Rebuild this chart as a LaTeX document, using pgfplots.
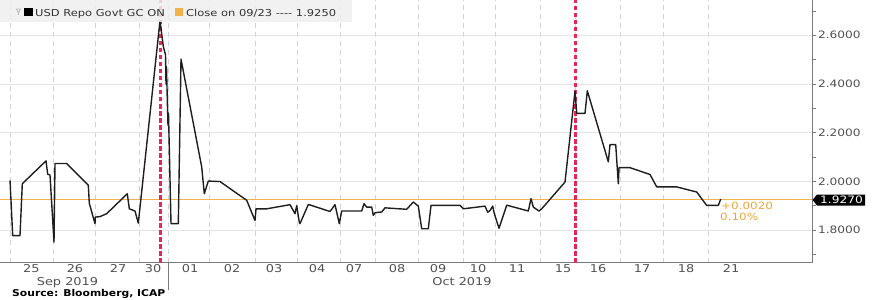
\documentclass[border=0pt]{standalone}
\usepackage{pgfplots}
\pgfplotsset{compat=1.18}
\usepackage{fontspec}
\setmainfont[FakeStretch=1.2]{DejaVu Sans}
\newfontfamily\bbgbold[FakeStretch=1.15]{DejaVu Sans Bold}
\definecolor{gridc}{HTML}{E4E4E4}
\definecolor{vgridc}{HTML}{D2D2D2}
\definecolor{axc}{HTML}{7A7A7A}
\definecolor{tickc}{HTML}{505050}
\definecolor{redl}{HTML}{E8265A}
\definecolor{closec}{HTML}{F2B24A}
\definecolor{annc}{HTML}{EBA53C}
\definecolor{legbg}{HTML}{EFEFEF}
\definecolor{linec}{HTML}{1E1E1E}

\pgfplotstableread{
x y
10 2.004
12.7 1.777
20 1.777
22.3 1.99
46 2.084
47.7 2.029
50 2.026
54 1.75
55 2.073
66.7 2.073
88.3 1.984
89.3 1.91
95 1.826
95.3 1.853
100 1.855
106.7 1.867
127.3 1.949
129.3 1.887
135 1.878
138.3 1.828
160 2.66
163.3 2.554
165.5 2.52
166 2.40
166.5 2.47
167.5 2.30
168 2.23
168.5 2.28
171 1.826
178.3 1.826
181 2.502
201.7 2.059
204.3 1.949
208.3 2.001
220 1.999
246.7 1.922
255 1.839
256 1.887
266.7 1.887
290 1.904
295 1.867
296.7 1.9
299.3 1.832
300 1.826
308.3 1.905
330 1.876
335 1.904
339.3 1.826
341.7 1.878
361.7 1.878
364 1.908
366.7 1.894
371.7 1.894
373.3 1.86
375 1.871
381.7 1.874
385 1.891
406.7 1.885
413.3 1.915
418.3 1.898
421.7 1.805
428.3 1.805
431 1.901
460 1.901
463.3 1.887
485 1.898
487.7 1.873
490 1.88
492.7 1.898
494.3 1.867
499 1.807
506.7 1.902
528.3 1.878
531 1.929
533.3 1.894
539 1.878
541.7 1.887
565 1.997
575 2.37
576.7 2.279
585 2.279
587.3 2.372
608.3 2.08
610 2.151
615.7 2.151
618.3 1.99
619 2.056
630 2.056
650 2.028
656.7 1.977
676.7 1.977
696.7 1.956
706.7 1.901
718.3 1.901
720.7 1.927
}\repo

\begin{document}
\begin{tikzpicture}[x=1bp,y=1bp]
\useasboundingbox (0,0) rectangle (883,299);
\begin{axis}[
  at={(0bp,36.5bp)}, anchor=south west,
  scale only axis, width=812bp, height=262.5bp,
  xmin=0, xmax=812, ymin=1.6664, ymax=2.745,
  axis x line*=bottom, axis y line*=right,
  axis line style={axc, line width=0.9bp},
  clip=false,
  xtick={31.3,75,118,153,190,232,274,317,354,397,438,478,517,563,598,642,686,731},
  xticklabels={25,26,27,30,01,02,03,04,07,08,09,10,11,15,16,17,18,21},
  minor xtick={10,53,95,139,168,209,255,297,340,375,418,463,495,540,575,620,663,708},
  xtick style={draw=none},
  xminorgrids=true,
  minor x grid style={vgridc, dash pattern=on 5bp off 4bp, line width=0.7bp},
  ytick={1.8,2.0,2.2,2.4,2.6},
  minor ytick={1.7,1.9,2.1,2.3,2.5,2.7},
  ymajorgrids=true,
  major y grid style={gridc, line width=0.8bp},
  ytick align=outside,
  major y tick style={axc, line width=0.8bp},
  minor y tick style={axc, line width=0.8bp},
  major tick length=3.5bp, minor tick length=3.5bp,
  /pgf/number format/assume math mode=true,
  yticklabel={\pgfmathprintnumber[fixed,zerofill,precision=4]{\tick}},
  yticklabel style={anchor=west, xshift=-1bp, font=\fontsize{10.2}{12}\selectfont, text=tickc},
  xticklabel style={anchor=base, yshift=-9.5bp, font=\fontsize{10.8}{12}\selectfont, text=tickc},
]
\addplot[closec, line width=1bp] coordinates {(0,1.926) (812,1.926)};
\addplot[redl, line width=3bp, dash pattern=on 4.5bp off 2.5bp] coordinates {(160,1.6664) (160,2.745)};
\addplot[redl, line width=3bp, dash pattern=on 4.5bp off 2.5bp] coordinates {(575,1.6664) (575,2.745)};
\addplot[linec, line width=1.4bp, line join=round] table[x=x,y=y] {\repo};
\end{axis}
% month separator
\draw[axc, line width=1bp] (168,36.5) -- (168,9);
% month labels
\node[anchor=base, text=tickc, font=\fontsize{10.8}{12}\selectfont] at (67.5,13.5) {Sep 2019};
\node[anchor=base, text=tickc, font=\fontsize{10.8}{12}\selectfont] at (462,13.5) {Oct 2019};
\node[anchor=base west, inner sep=0, font=\bbgbold\fontsize{9.4}{11}\selectfont] at (12,2.6) {Source: Bloomberg, ICAP};
% legend
\fill[legbg, opacity=0.85] (0,277) rectangle (352,299);
\draw[gray!55, line width=0.8bp] (16.5,290) -- (20.5,290) -- (18.5,286) -- cycle;
\draw[gray!55, line width=0.8bp] (18.5,286) -- (18.5,283.5);
\fill[black] (24,283) rectangle (32.7,291);
\node[anchor=base west, inner sep=0, text=black!80, font=\fontsize{9.6}{11}\selectfont] at (35,282.3) {USD Repo Govt GC ON};
\fill[closec] (175,283) rectangle (183.3,291);
\node[anchor=base west, inner sep=0, text=black!80, font=\fontsize{9.6}{11}\selectfont] at (186,282.3) {Close on 09/23 {-}{-}{-}{-} 1.9250};
% last value box
\fill[black] (812.5,99) -- (817,104.5) -- (865,104.5) -- (865,93.5) -- (817,93.5) -- cycle;
\node[anchor=center, inner sep=0, text=white, font=\fontsize{10.2}{12}\selectfont] at (841.5,99) {1.9270};
% change annotation
\node[anchor=west, inner sep=0, text=annc, font=\fontsize{10}{12}\selectfont] at (721,93.5) {+0.0020};
\node[anchor=west, inner sep=0, text=annc, font=\fontsize{10}{12}\selectfont] at (720,82) {0.10\%};
\end{tikzpicture}
\end{document}
